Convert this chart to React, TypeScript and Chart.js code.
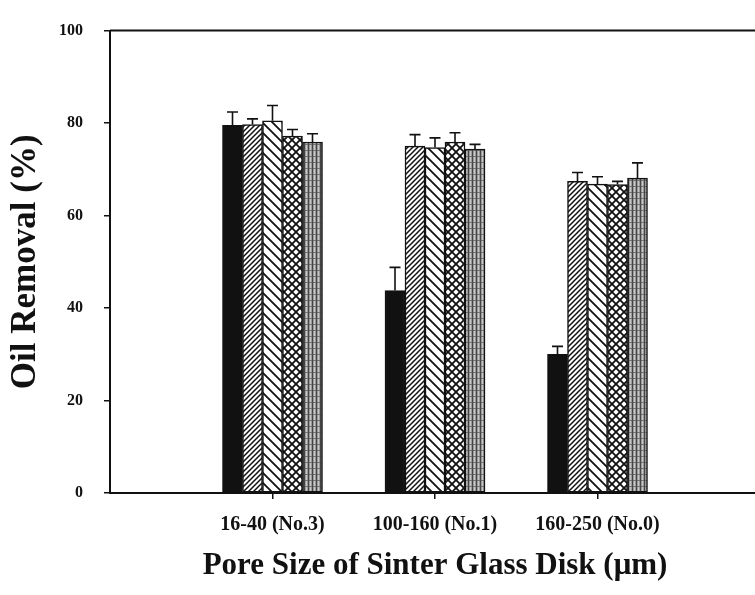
import React, { useEffect, useRef } from 'react';
import { Chart, registerables } from 'chart.js';

Chart.register(...registerables);

// Pore size groups on the horizontal axis
const categories = ['16-40 (No.3)', '100-160 (No.1)', '160-250 (No.0)'];
const yTickValues = [0, 20, 40, 60, 80, 100];

// Oil removal (%) per series, one value per pore size group
const seriesA = [79.5, 43.8, 30.0];
const seriesB = [79.7, 75.0, 67.4];
const seriesC = [80.5, 74.7, 66.8];
const seriesD = [77.2, 75.9, 66.7];
const seriesE = [75.9, 74.4, 68.1];

// Standard deviations (upper error bars)
const errA = [2.9, 5.0, 1.7];
const errB = [1.2, 2.5, 1.9];
const errC = [3.3, 2.1, 1.6];
const errD = [1.4, 2.0, 0.7];
const errE = [1.8, 1.0, 3.3];

const FONT = "'Liberation Serif', 'Times New Roman', serif";

type PatternKind = 'solid' | 'fwd' | 'back' | 'cross' | 'grey';

function makePattern(kind: PatternKind): CanvasPattern | string {
  if (kind === 'solid') return '#111111';
  const c = document.createElement('canvas');
  const ctx = c.getContext('2d')!;
  if (kind === 'grey') {
    c.width = 4;
    c.height = 6;
    ctx.fillStyle = '#9a9a9a';
    ctx.fillRect(0, 0, 4, 6);
    ctx.fillStyle = '#444444';
    ctx.fillRect(0, 0, 1, 6);
    ctx.fillStyle = '#c8c8c8';
    ctx.fillRect(2, 0, 1, 6);
    ctx.fillStyle = '#707070';
    ctx.fillRect(1, 0, 3, 1);
    return ctx.createPattern(c, 'repeat')!;
  }
  const s = kind === 'fwd' ? 5 : kind === 'back' ? 10 : 8;
  c.width = s;
  c.height = s;
  ctx.fillStyle = '#ffffff';
  ctx.fillRect(0, 0, s, s);
  ctx.strokeStyle = '#111111';
  ctx.lineWidth = kind === 'fwd' ? 1.5 : 1.8;
  ctx.lineCap = 'square';
  const fwd = () => {
    ctx.beginPath();
    ctx.moveTo(0, s);
    ctx.lineTo(s, 0);
    ctx.moveTo(-s / 2, s / 2);
    ctx.lineTo(s / 2, -s / 2);
    ctx.moveTo(s / 2, s + s / 2);
    ctx.lineTo(s + s / 2, s / 2);
    ctx.stroke();
  };
  const back = () => {
    ctx.beginPath();
    ctx.moveTo(0, 0);
    ctx.lineTo(s, s);
    ctx.moveTo(-s / 2, s / 2);
    ctx.lineTo(s / 2, s + s / 2);
    ctx.moveTo(s / 2, -s / 2);
    ctx.lineTo(s + s / 2, s / 2);
    ctx.stroke();
  };
  if (kind === 'fwd') fwd();
  if (kind === 'back') back();
  if (kind === 'cross') {
    fwd();
    back();
  }
  return ctx.createPattern(c, 'repeat')!;
}

const errorBars = {
  id: 'errorBars',
  afterDatasetsDraw(chart: any) {
    const { ctx } = chart;
    const yScale = chart.scales.y;
    ctx.save();
    ctx.strokeStyle = '#111111';
    ctx.lineWidth = 1.6;
    chart.data.datasets.forEach((ds: any, i: number) => {
      const meta = chart.getDatasetMeta(i);
      meta.data.forEach((bar: any, j: number) => {
        const v = ds.data[j].y;
        const top = yScale.getPixelForValue(v + ds.errors[j]);
        ctx.beginPath();
        ctx.moveTo(bar.x, bar.y);
        ctx.lineTo(bar.x, top);
        ctx.moveTo(bar.x - 5.5, top);
        ctx.lineTo(bar.x + 5.5, top);
        ctx.stroke();
      });
    });
    ctx.restore();
  },
};

const topFrame = {
  id: 'topFrame',
  afterDraw(chart: any) {
    const { ctx, chartArea } = chart;
    ctx.save();
    ctx.strokeStyle = '#111111';
    ctx.lineWidth = 2;
    ctx.beginPath();
    ctx.moveTo(chartArea.left, chartArea.top);
    ctx.lineTo(chartArea.right + 5, chartArea.top);
    ctx.stroke();
    ctx.restore();
  },
};

export default function App() {
  const ref = useRef<HTMLCanvasElement | null>(null);

  useEffect(() => {
    if (!ref.current) return;
    const values = [seriesA, seriesB, seriesC, seriesD, seriesE];
    const errors = [errA, errB, errC, errD, errE];
    const kinds: PatternKind[] = ['solid', 'fwd', 'back', 'cross', 'grey'];

    const chart = new Chart(ref.current, {
      type: 'bar',
      data: {
        datasets: values.map((vals, k) => ({
          label: `S${k + 1}`,
          data: vals.map((v, i) => ({ x: i + 1, y: v })),
          errors: errors[k],
          backgroundColor: makePattern(kinds[k]),
          borderColor: '#111111',
          borderWidth: 1.5,
          borderSkipped: false,
          barThickness: 20,
        })) as any,
      },
      options: {
        responsive: false,
        animation: false,
        layout: { padding: { top: 24, right: 0, bottom: 0, left: 0 } },
        plugins: {
          legend: { display: false },
          tooltip: { enabled: false },
          title: { display: false },
        },
        scales: {
          x: {
            type: 'linear',
            min: 0,
            max: 4,
            offset: false,
            afterBuildTicks: (scale: any) => {
              scale.ticks = categories.map((_, i) => ({ value: i + 1 }));
            },
            afterFit: (scale: any) => {
              scale.height = 102;
            },
            ticks: {
              autoSkip: false,
              maxRotation: 0,
              color: '#111111',
              padding: 14,
              font: { family: FONT, size: 20, weight: 'bold' },
              callback: (v: any) => categories[Number(v) - 1] ?? '',
            },
            grid: {
              offset: false,
              drawOnChartArea: false,
              drawTicks: true,
              tickLength: 6,
              color: '#111111',
              lineWidth: 1.5,
            },
            border: { display: true, color: '#111111', width: 2 },
            title: {
              display: true,
              text: 'Pore Size of Sinter Glass Disk (\u03bcm)',
              color: '#111111',
              font: { family: FONT, size: 31, weight: 'bold' },
              padding: { top: 0, bottom: 10 },
            },
          },
          y: {
            min: 0,
            max: 100,
            afterBuildTicks: (scale: any) => {
              scale.ticks = yTickValues.map((v) => ({ value: v }));
            },
            afterFit: (scale: any) => {
              scale.width = 110;
            },
            ticks: {
              color: '#111111',
              padding: 21,
              font: { family: FONT, size: 16, weight: 'bold' },
            },
            grid: {
              drawOnChartArea: false,
              drawTicks: true,
              tickLength: 6,
              color: '#111111',
              lineWidth: 1.5,
            },
            border: { display: true, color: '#111111', width: 2 },
            title: {
              display: true,
              text: 'Oil Removal (%)',
              color: '#111111',
              font: { family: FONT, size: 35, weight: 'bold' },
              padding: { top: 5, bottom: 0 },
            },
          },
        },
      },
      plugins: [errorBars, topFrame],
    });

    return () => chart.destroy();
  }, []);

  return (
    <div
      style={{
        position: 'absolute',
        left: 0,
        top: 0,
        width: 755,
        height: 595,
        overflow: 'hidden',
        background: '#ffffff',
      }}
    >
      <canvas ref={ref} width={760} height={595} style={{ display: 'block', width: 760, height: 595 }} />
    </div>
  );
}
